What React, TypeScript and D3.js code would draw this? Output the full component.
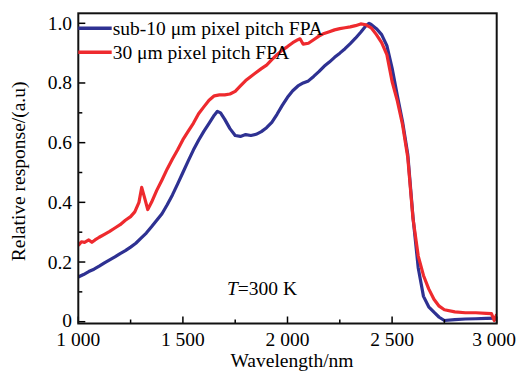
import React from "react";
import * as d3 from "d3";

const blueWl = [1000,1025,1050,1075,1100,1125,1150,1175,1200,1225,1250,1275,1300,1325,1350,1375,1400,1425,1450,1475,1500,1525,1550,1575,1600,1625,1650,1665,1680,1700,1725,1750,1775,1800,1825,1850,1875,1900,1925,1950,1975,2000,2025,2050,2075,2100,2125,2150,2175,2200,2225,2250,2275,2300,2325,2350,2375,2390,2400,2425,2450,2475,2500,2525,2550,2575,2600,2625,2650,2675,2700,2725,2750,2800,2850,2900,2950,3000];
const blueVal = [0.150,0.158,0.168,0.176,0.186,0.197,0.207,0.217,0.228,0.238,0.250,0.263,0.280,0.297,0.318,0.340,0.362,0.392,0.425,0.462,0.500,0.538,0.575,0.608,0.638,0.665,0.692,0.705,0.700,0.678,0.647,0.624,0.621,0.627,0.624,0.628,0.637,0.650,0.668,0.695,0.725,0.752,0.774,0.790,0.800,0.807,0.822,0.838,0.856,0.870,0.886,0.900,0.915,0.932,0.950,0.970,0.992,1.000,0.996,0.982,0.962,0.925,0.850,0.758,0.670,0.560,0.350,0.180,0.085,0.050,0.032,0.015,0.004,0.007,0.009,0.010,0.011,0.012];

const redWl = [1000,1015,1030,1050,1065,1080,1100,1125,1150,1175,1200,1225,1250,1270,1290,1303,1315,1332,1350,1375,1400,1425,1450,1475,1500,1525,1550,1575,1600,1625,1650,1675,1700,1725,1750,1775,1800,1825,1850,1875,1900,1925,1950,1975,2000,2025,2050,2060,2075,2100,2125,2150,2175,2200,2225,2250,2275,2300,2325,2350,2375,2400,2425,2450,2475,2500,2525,2550,2575,2600,2625,2650,2675,2700,2725,2750,2800,2850,2900,2950,2975,2988,3000];
const redVal = [0.255,0.268,0.266,0.274,0.266,0.274,0.283,0.293,0.303,0.314,0.325,0.340,0.352,0.368,0.400,0.450,0.420,0.376,0.400,0.440,0.475,0.512,0.545,0.576,0.610,0.638,0.665,0.697,0.720,0.742,0.757,0.760,0.760,0.763,0.772,0.790,0.808,0.822,0.835,0.848,0.860,0.878,0.895,0.910,0.922,0.935,0.945,0.948,0.930,0.933,0.945,0.957,0.966,0.972,0.978,0.982,0.985,0.988,0.992,0.998,0.995,0.985,0.962,0.935,0.895,0.805,0.740,0.660,0.550,0.345,0.220,0.155,0.110,0.075,0.052,0.040,0.033,0.030,0.030,0.028,0.027,0.004,0.025];

const xTicks = [1000, 1500, 2000, 2500, 3000];
const xTickLabels = ["1 000", "1 500", "2 000", "2 500", "3 000"];
const yTicks = [0, 0.2, 0.4, 0.6, 0.8, 1.0];
const yTickLabels = ["0", "0.2", "0.4", "0.6", "0.8", "1.0"];
const legendLabels = ["sub-10 \u03bcm pixel pitch FPA", "30 \u03bcm pixel pitch FPA"];

const W = 517, H = 376;
const left = 78.3, right = 496.7, top = 13.3, bottom = 323.5;
const BLUE = "#2e3192";
const RED = "#ee2a2e";
const FONT = "Liberation Serif, DejaVu Serif, serif";

export default function App() {
  const x = d3.scaleLinear().domain([1000, 3000]).range([left, right]);
  const y = d3.scaleLinear().domain([-0.006, 1.0335]).range([bottom, top]);
  const line = d3.line<[number, number]>().x(d => x(d[0])).y(d => y(d[1]));
  const blue = blueWl.map((w, i) => [w, blueVal[i]] as [number, number]);
  const red = redWl.map((w, i) => [w, redVal[i]] as [number, number]);
  const xMinor = d3.range(1250, 3000, 500);
  const yMinor = d3.range(0.1, 1.0, 0.2);
  const ts: React.CSSProperties = { fontFamily: FONT, fontSize: "19.5px" };
  return (
    <svg width={W} height={H} style={{ position: "absolute", left: 0, top: 0, background: "#fff" }}>
      <defs>
        <clipPath id="clip"><rect x={left} y={top} width={right - left} height={bottom - top} /></clipPath>
      </defs>
      <g clipPath="url(#clip)">
        <path d={line(blue) || ""} fill="none" stroke={BLUE} strokeWidth={3.2} strokeLinejoin="round" />
        <path d={line(red) || ""} fill="none" stroke={RED} strokeWidth={3.2} strokeLinejoin="round" />
      </g>
      {xTicks.map(t => <line key={"xt" + t} x1={x(t)} x2={x(t)} y1={bottom} y2={bottom - 7} stroke="#000" strokeWidth={1.5} />)}
      {xMinor.map(t => <line key={"xm" + t} x1={x(t)} x2={x(t)} y1={bottom} y2={bottom - 4} stroke="#000" strokeWidth={1.5} />)}
      {yTicks.map(t => <line key={"yt" + t} x1={left} x2={left + 7} y1={y(t)} y2={y(t)} stroke="#000" strokeWidth={1.5} />)}
      {yMinor.map(t => <line key={"ym" + t} x1={left} x2={left + 4} y1={y(t)} y2={y(t)} stroke="#000" strokeWidth={1.5} />)}
      <rect x={left} y={top} width={right - left} height={bottom - top} fill="none" stroke="#111" strokeWidth={2} />
      {xTicks.map((t, i) => (
        <text key={"xl" + t} x={i === xTicks.length - 1 ? W - 1 : x(t)} y={346}
          textAnchor={i === xTicks.length - 1 ? "end" : "middle"} style={ts}>{xTickLabels[i]}</text>
      ))}
      {yTicks.map((t, i) => (
        <text key={"yl" + t} x={72} y={y(t) + (t === 0 ? 5 : 6.5)} textAnchor="end" style={ts}>{yTickLabels[i]}</text>
      ))}
      <text x={292} y={367} textAnchor="middle" style={ts}>Wavelength/nm</text>
      <text transform={`translate(24.5,${(top + bottom) / 2 + 3}) rotate(-90)`} textAnchor="middle" style={ts}>Relative response/(a.u)</text>
      <line x1={left} x2={111.7} y1={28.3} y2={28.3} stroke={BLUE} strokeWidth={3.5} />
      <text x={112.7} y={35} style={ts}>{legendLabels[0]}</text>
      <line x1={left} x2={111.7} y1={52.3} y2={52.3} stroke={RED} strokeWidth={3.5} />
      <text x={112.7} y={59} style={ts}>{legendLabels[1]}</text>
      <text x={227} y={294.5} style={ts}><tspan fontStyle="italic">T</tspan>=300 K</text>
    </svg>
  );
}
